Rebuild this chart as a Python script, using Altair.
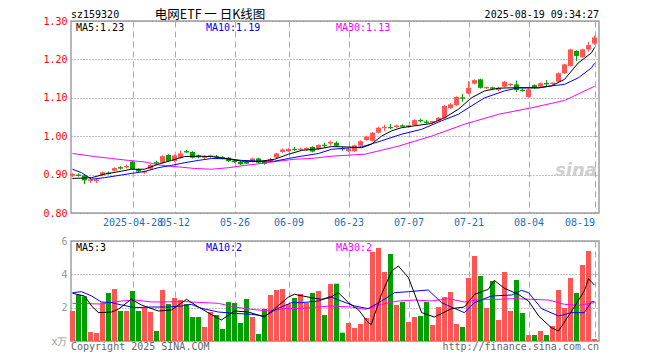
import altair as alt
import pandas as pd

# ---------------- data ----------------
opens = [0.897,0.900,0.898,0.884,0.883,0.898,0.905,0.910,0.919,0.919,
         0.934,0.914,0.905,0.915,0.932,0.931,0.951,0.935,0.944,0.961,
         0.959,0.950,0.944,0.946,0.948,0.945,0.944,0.937,0.933,0.933,
         0.934,0.942,0.935,0.935,0.944,0.959,0.961,0.967,0.964,0.965,
         0.972,0.966,0.978,0.981,0.983,0.969,0.961,0.961,0.975,0.990,
         0.988,1.009,1.021,1.024,1.024,1.028,1.024,1.029,1.042,1.038,
         1.035,1.040,1.048,1.073,1.081,1.101,1.111,1.137,1.148,1.125,
         1.127,1.120,1.129,1.133,1.135,1.121,1.102,1.133,1.129,1.138,
         1.136,1.142,1.164,1.183,1.222,1.206,1.226,1.241]
closes = [0.900,0.898,0.885,0.886,0.887,0.906,0.903,0.917,0.917,0.921,
          0.914,0.908,0.908,0.925,0.930,0.948,0.935,0.950,0.955,0.959,
          0.944,0.945,0.946,0.950,0.946,0.943,0.935,0.934,0.927,0.930,
          0.942,0.931,0.928,0.940,0.955,0.965,0.967,0.965,0.966,0.968,
          0.960,0.977,0.976,0.984,0.975,0.967,0.967,0.976,0.987,0.999,
          1.009,1.022,1.023,1.022,1.028,1.026,1.027,1.042,1.040,1.036,
          1.038,1.048,1.079,1.083,1.102,1.099,1.126,1.146,1.126,1.127,
          1.125,1.126,1.142,1.135,1.120,1.119,1.122,1.126,1.138,1.136,
          1.138,1.164,1.187,1.226,1.209,1.226,1.237,1.257]
highs = [0.904,0.903,0.900,0.891,0.889,0.908,0.908,0.919,0.922,0.926,
         0.937,0.916,0.911,0.927,0.936,0.950,0.953,0.952,0.963,0.964,
         0.961,0.952,0.950,0.952,0.951,0.948,0.946,0.940,0.935,0.935,
         0.944,0.944,0.937,0.943,0.957,0.968,0.969,0.972,0.970,0.971,
         0.974,0.979,0.983,0.988,0.987,0.973,0.969,0.978,0.989,1.001,
         1.011,1.025,1.030,1.032,1.030,1.031,1.029,1.044,1.046,1.042,
         1.040,1.050,1.081,1.086,1.104,1.110,1.144,1.148,1.150,1.129,
         1.129,1.128,1.144,1.138,1.145,1.124,1.124,1.135,1.140,1.146,
         1.140,1.166,1.189,1.228,1.224,1.228,1.246,1.262]
lows = [0.894,0.895,0.875,0.878,0.878,0.896,0.900,0.908,0.913,0.916,
        0.912,0.905,0.902,0.913,0.926,0.929,0.933,0.933,0.942,0.956,
        0.942,0.942,0.938,0.944,0.943,0.940,0.933,0.930,0.925,0.928,
        0.932,0.929,0.926,0.933,0.942,0.957,0.959,0.961,0.962,0.963,
        0.958,0.964,0.970,0.975,0.973,0.962,0.959,0.959,0.973,0.988,
        0.986,1.007,1.013,1.018,1.022,1.023,1.022,1.027,1.036,1.032,
        1.033,1.038,1.046,1.071,1.079,1.090,1.109,1.135,1.124,1.123,
        1.121,1.118,1.127,1.130,1.115,1.116,1.100,1.124,1.127,1.128,
        1.134,1.140,1.162,1.181,1.196,1.204,1.220,1.238]
volumes = [1.80,2.76,2.68,0.54,0.48,2.30,2.88,3.12,1.80,1.80,
           3.00,1.80,2.00,1.74,0.60,3.06,2.22,2.58,2.46,2.22,
           1.44,1.44,0.84,1.74,1.56,0.72,2.34,2.28,1.08,2.52,
           1.44,0.42,1.92,2.76,3.06,3.12,2.22,2.58,2.82,2.28,
           2.88,3.00,1.56,3.42,3.44,0.50,1.08,0.78,1.02,1.38,
           5.34,5.58,4.14,5.22,2.16,2.34,1.14,1.44,1.50,2.34,
           0.96,2.04,2.64,2.94,1.02,0.84,3.78,5.10,3.90,1.98,
           3.60,1.26,4.14,1.80,3.66,1.68,0.36,0.36,0.60,0.36,
           0.90,3.06,1.98,3.78,2.88,4.56,5.40,0.12]

tick_idx = [10, 17, 27, 36, 46, 56, 66, 76, 87]
tick_labels = ["2025-04-28", "05-12", "05-26", "06-09", "06-23",
               "07-07", "07-21", "08-04", "08-19"]

ma5_i = [0,3.2,5.3,8.2,9.8,12,14.3,16.5,18.7,21,23.2,26,28.2,31,33.7,36,38.2,41,43.2,45.7,
         48.2,49.8,51.5,53.2,54.8,57,59.8,62,64.3,66.5,68.7,71,73.2,75.3,77.7,79.8,82,84.3,86.5,87]
ma5_v = [0.890,0.892,0.901,0.909,0.914,0.914,0.927,0.937,0.947,0.948,0.947,0.941,0.935,0.934,0.940,
         0.953,0.963,0.967,0.973,0.972,0.970,0.979,1.000,1.014,1.022,1.027,1.033,1.048,1.070,1.100,
         1.118,1.125,1.126,1.126,1.126,1.131,1.148,1.191,1.217,1.231]
ma10_i = [0,1.5,3.2,5.3,8.2,9.8,12,14.3,16.5,18.7,21,23.2,26,28.2,31,33.7,36,38.2,41,43.2,
          48.2,51.5,54.8,58.2,61.5,64.3,66.5,68.7,72,74.3,77.7,79.8,82,84.3,86.5,87]
ma10_v = [0.914,0.905,0.888,0.892,0.899,0.903,0.908,0.918,0.924,0.931,0.937,0.942,0.941,0.937,0.935,
          0.935,0.942,0.948,0.955,0.966,0.972,0.988,1.005,1.018,1.040,1.057,1.079,1.100,1.118,1.126,
          1.126,1.131,1.135,1.152,1.178,1.19]
ma30_i = [0,3.7,6.5,9.3,12,14.8,17.7,20.3,23.2,26,28.7,31.5,34.3,37,39.8,43.2,48.7,54.3,59.8,65.3,
          71,76.5,82,87]
ma30_v = [0.955,0.947,0.942,0.937,0.933,0.924,0.920,0.916,0.914,0.918,0.924,0.929,0.935,0.940,0.942,
          0.948,0.953,0.974,1.000,1.031,1.057,1.074,1.093,1.13]

vma5_i = [0,2,3.2,4.3,6.5,7.6,9.8,11.5,14.3,16.5,19,21,22.6,24.8,27,29.3,32,33.7,36,37,
          39.8,41.5,42.9,44.3,46,47.7,49.3,49.8,51.5,53.2,54.3,56,58.2,60.3,63.2,65.3,67,69.3,70.3,72,
          74.3,76,77.7,79.8,81,83.2,85.3,86,87]
vma5_v = [2.86,2.7,2.1,1.7,1.74,1.9,2.5,2.16,1.8,1.86,2.5,2.04,1.7,1.26,1.8,1.74,1.44,1.94,2.64,2.8,
          2.6,2.5,2.6,2.9,2.3,1.86,1.1,1.0,2.8,4.2,4.5,3.8,1.7,1.44,1.94,2.04,2.8,3.1,3.64,3.16,
          2.8,2.4,1.5,0.8,0.6,1.8,3.0,3.74,3.35]
vma10_i = [0,1.5,3.2,4.8,6.5,8.2,10.4,13.2,16,18.2,19.8,21.5,24.3,27,29.8,32,34.3,36.5,38.2,41,
           42.9,44.8,47,49.3,51.5,53.7,56,59.3,61.5,65.3,67,69.8,73.2,74.8,76,78.2,81,83.2,85.3,86.5,87]
vma10_v = [2.9,2.96,2.7,2.34,2.3,2.16,2.0,2.04,2.04,2.1,2.2,1.96,1.74,1.66,1.6,1.5,1.96,2.3,2.3,2.4,
           2.66,2.4,2.1,1.94,2.4,2.9,2.96,3.06,2.3,1.7,2.3,2.7,2.76,3.04,2.9,1.94,1.5,1.7,1.7,2.36,2.36]
vma30_i = [0,4.8,8.2,10.4,13.2,18.7,24.3,27,29.8,32.7,35.3,38.2,42.9,46.5,48.7,51.5,54.3,57,59.8,62.7,
           65.3,68.2,71,73.7,76.5,79.3,82,84.3,87]
vma30_v = [2.26,2.22,2.4,2.46,2.34,2.36,2.26,2.04,1.9,1.8,1.94,1.96,2.1,2.04,1.9,2.2,2.4,2.46,2.4,2.54,
           2.34,2.5,2.5,2.54,2.5,2.46,2.2,2.14,2.3]

price_ticks = [0.8, 0.9, 1.0, 1.1, 1.2, 1.3]
vol_ticks = [0, 2, 4, 6]

# ---------------- styling ----------------
MONO = "DejaVu Sans Mono"
CJK = "Noto Sans CJK SC"
RED = "#ff5555"
GREEN = "#00a000"
W, HP, HV = 528, 192, 100

df = pd.DataFrame({"i": list(range(len(closes))), "o": opens, "c": closes,
                   "h": highs, "l": lows, "v": volumes})
df["dir"] = ["up" if c >= o else "down" for o, c in zip(opens, closes)]

xscale = alt.Scale(domain=[-0.25, 87.75], nice=False, zero=False)
pscale = alt.Scale(domain=[0.8, 1.3], nice=False, zero=False)
vscale = alt.Scale(domain=[0, 6], nice=False, zero=False)
cscale = alt.Scale(domain=["up", "down"], range=[RED, GREEN])
color = alt.Color("dir:N", scale=cscale, legend=None)

label_expr = "".join(f"datum.value == {t} ? '{lab}' : " for t, lab in zip(tick_idx, tick_labels)) + "''"


def xaxis(show_labels):
    return alt.Axis(values=tick_idx, labelExpr=label_expr, labels=show_labels, grid=True,
                    gridDash=[6, 4], gridColor="#a8a8a8", gridWidth=1, ticks=False, domain=False,
                    title=None, labelFont=MONO, labelFontSize=10, labelColor="#1a6fc0",
                    labelPadding=4, labelOverlap=False, labelFlush=False,
                    labelAlign={"expr": "datum.value >= 87 ? 'right' : 'center'"})


def p_axis():
    return alt.Axis(values=price_ticks, format=".2f", grid=True, gridDash=[1, 2], gridColor="#888",
                    ticks=False, domain=False, title=None, labelFont=MONO, labelFontSize=10,
                    labelColor="#ff0000", labelPadding=4)


def v_axis():
    return alt.Axis(values=vol_ticks, grid=True, gridDash=[1, 2], gridColor="#888",
                    ticks=False, domain=False, title=None, labelFont=MONO, labelFontSize=10,
                    labelColor="#999999", labelPadding=4,
                    labelExpr="datum.value == 0 ? 'x万' : datum.label")


def txt(s, x, y, col="black", size=10, align="left", font=MONO, **kw):
    return alt.Chart(alt.Data(values=[{}])).mark_text(
        text=s, align=align, baseline="middle", font=font, fontSize=size, color=col, **kw
    ).encode(x=alt.value(x), y=alt.value(y))


def ma_line(ii, vv, col, scale, yax, xax):
    d = pd.DataFrame({"i": ii, "val": vv})
    return alt.Chart(d).mark_line(color=col, strokeWidth=1).encode(
        x=alt.X("i:Q", scale=xscale, axis=xax),
        y=alt.Y("val:Q", scale=scale, axis=yax))


base = alt.Chart(df).transform_calculate(xa="datum.i - 0.4167", xb="datum.i + 0.4167")

# ---------------- price panel ----------------
wick = base.mark_rule(strokeWidth=1).encode(
    x=alt.X("i:Q", scale=xscale, axis=xaxis(True)),
    y=alt.Y("l:Q", scale=pscale, axis=p_axis()), y2="h:Q", color=color)
body = base.mark_rect().encode(
    x=alt.X("xa:Q", scale=xscale, axis=xaxis(True)), x2="xb:Q",
    y=alt.Y("o:Q", scale=pscale, axis=p_axis()), y2="c:Q", color=color)
doji = base.transform_filter("abs(datum.c - datum.o) < 0.004").mark_rule(strokeWidth=1).encode(
    x=alt.X("xa:Q", scale=xscale, axis=xaxis(True)), x2="xb:Q",
    y=alt.Y("c:Q", scale=pscale, axis=p_axis()), color=color)

top = alt.layer(
    wick, body, doji,
    ma_line(ma30_i, ma30_v, "#ff00ff", pscale, p_axis(), xaxis(True)),
    ma_line(ma10_i, ma10_v, "#0000ff", pscale, p_axis(), xaxis(True)),
    ma_line(ma5_i, ma5_v, "#000000", pscale, p_axis(), xaxis(True)),
    txt("sz159320", 0, -6.5),
    txt("电网ETF 一 日K线图", 139, -5.75, size=12.5, align="center", font=CJK),
    txt("2025-08-19 09:34:27", 528, -6.5, align="right"),
    txt("MA5:1.23", 5, 6.5, "#000000"),
    txt("MA10:1.19", 135, 6.5, "#0000ff"),
    txt("MA30:1.13", 265, 6.5, "#ff00ff"),
    txt("sina", 505, 150, "#cfcfcf", size=18, align="center", font="DejaVu Sans",
        fontWeight="bold", fontStyle="italic"),
).properties(width=W, height=HP)

# ---------------- volume panel ----------------
vbar = base.mark_rect().encode(
    x=alt.X("xa:Q", scale=xscale, axis=xaxis(False)), x2="xb:Q",
    y=alt.Y("v:Q", scale=vscale, axis=v_axis()), y2=alt.datum(0), color=color)

bottom = alt.layer(
    vbar,
    ma_line(vma30_i, vma30_v, "#ff00ff", vscale, v_axis(), xaxis(False)),
    ma_line(vma10_i, vma10_v, "#0000ff", vscale, v_axis(), xaxis(False)),
    ma_line(vma5_i, vma5_v, "#000000", vscale, v_axis(), xaxis(False)),
    txt("MA5:3", 5, 6.5, "#000000"),
    txt("MA10:2", 135, 6.5, "#0000ff"),
    txt("MA30:2", 265, 6.5, "#ff00ff"),
    txt("Copyright 2025 SINA.COM", 0, 106, "#666666"),
    txt("http://finance.sina.com.cn", 528, 106, "#666666", align="right"),
).properties(width=W, height=HV)

chart = alt.vconcat(top, bottom, spacing=28, bounds="flush").properties(
    padding={"left": 34, "top": 0, "right": 5, "bottom": 5},
    background="white",
).configure_view(stroke="#a0a0a0", strokeWidth=1.5)

chart.save("out.html", embed_options={"renderer": "svg", "actions": False})
